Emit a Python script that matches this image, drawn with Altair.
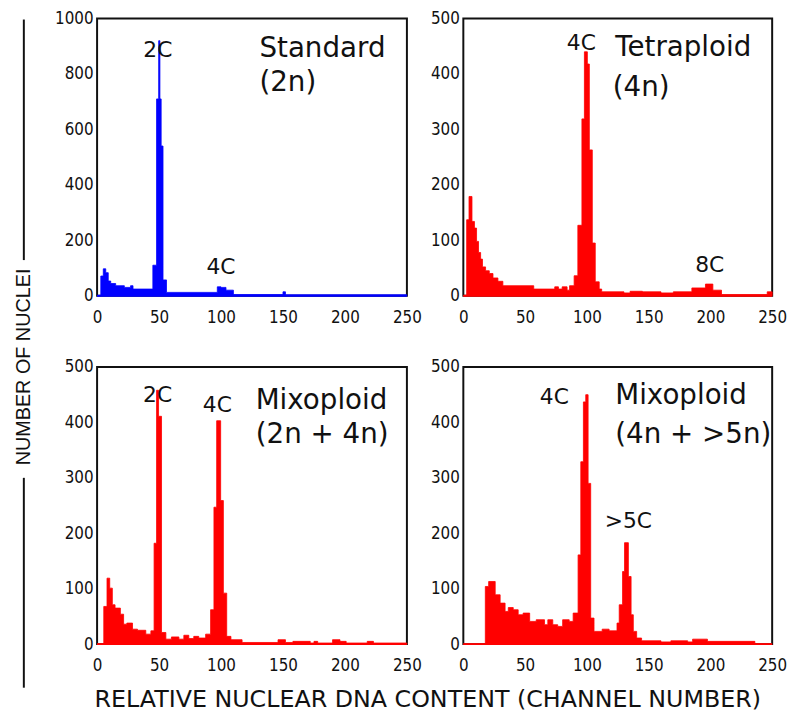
import altair as alt
import pandas as pd

# ---------------- data ----------------
panel_titles = ["Standard", "Tetraploid", "Mixoploid", "Mixoploid"]
panel_subtitles = ["(2n)", "(4n)", "(2n + 4n)", "(4n + >5n)"]
panel_colors = ["#0000ff", "#ff0000", "#ff0000", "#ff0000"]
y_max = [1000, 500, 500, 500]
y_step = [200, 100, 100, 100]
x_ticks = [0, 50, 100, 150, 200, 250]

# title anchor (channel, count) for each panel
title_x = [131, 123, 128, 123]
title_y = [861, 433, 424, 434]
subtitle_x = [131, 121, 128, 123]
subtitle_y = [737, 361, 362, 362]

# histogram: bin edges (channel number) and counts
std_edges = [0, 3, 5, 7, 9, 11, 15, 22, 27, 29, 45, 48, 49.7, 50.7, 51.7, 53.2, 56,
             97, 100, 104, 110, 150, 152, 250]
std_counts = [0, 71, 97, 83, 53, 44, 36, 30, 36, 24, 110, 710, 920, 710, 540, 57,
              12, 32, 30, 20, 4, 14, 3]

tet_edges = [0, 2.7, 4.6, 7, 9, 10.7, 12.3, 14, 15.5, 18, 21, 24, 28, 32, 57, 74, 77, 80,
             84, 86, 89.7, 92.7, 96, 98, 100.4, 102, 104.4, 106.8, 110, 112, 130, 135,
             145, 160, 170, 185, 196, 202, 209, 246, 250]
tet_counts = [0, 137, 179, 134, 122, 98, 78, 66, 52, 45, 40, 32, 26, 18, 12, 16, 12,
              16, 10, 18, 36, 127, 319, 440, 418, 263, 95, 25, 12, 7, 5, 8, 7, 5, 7,
              14, 21, 10, 2, 7]

mix1_edges = [0, 5.4, 8, 10.2, 12.3, 14.5, 18.8, 21.4, 24, 28.6, 32.6, 39.3, 43.4, 46,
              48, 49.6, 52, 55.5, 60, 66, 70, 74, 78, 82, 87.6, 91.6, 94.3, 96.5, 99.7,
              101.9, 104.6, 108, 117, 146, 152, 158, 172, 175, 178, 190, 196, 201, 218,
              223, 250]
mix1_counts = [0, 68, 119, 101, 71, 65, 54, 36, 38, 27, 25, 18, 24, 182, 458, 411, 21,
               9, 13, 9, 16, 10, 14, 11, 18, 62, 247, 403, 259, 92, 14, 8, 3, 8, 3, 5,
               2, 5, 2, 8, 5, 2, 5, 2]

mix2_edges = [0, 17.8, 20.5, 25.8, 29.8, 33.8, 36.4, 40.4, 44.4, 48.4, 53.7, 59, 65.7,
              68.4, 72.4, 76.4, 80.4, 85.7, 88.9, 92.9, 95.1, 97.2, 99.1, 101, 103.1,
              105.8, 112.4, 118, 124.4, 126.2, 128.9, 130.5, 133.6, 135.8, 137.6, 140.3,
              144.3, 160, 168, 181.6, 185.6, 197.6, 236, 250]
mix2_counts = [0, 104, 113, 89, 74, 59, 66, 62, 53, 56, 41, 44, 35, 44, 35, 32, 44, 41,
               56, 161, 329, 437, 450, 290, 47, 23, 27, 24, 38, 71, 131, 183, 122, 53,
               23, 11, 6, 4, 6, 4, 9, 5, 0]

# peak labels
std_peaks = ["2C", "4C"]
std_peak_x = [49, 100]
std_peak_y = [860, 78]
tet_peaks = ["4C", "8C"]
tet_peak_x = [95.5, 199.5]
tet_peak_y = [444, 42]
mix1_peaks = ["2C", "4C"]
mix1_peak_x = [48.8, 97]
mix1_peak_y = [436, 418]
mix2_peaks = ["4C", ">5C"]
mix2_peak_x = [73.7, 133.6]
mix2_peak_y = [434, 209]

y_axis_title = "NUMBER OF NUCLEI"
x_axis_title = "RELATIVE NUCLEAR DNA CONTENT (CHANNEL NUMBER)"

# ---------------- styling ----------------
TICK_FONT = "Liberation Sans Narrow, DejaVu Sans Condensed, Liberation Sans, sans-serif"
TEXT_FONT = "DejaVu Sans, Liberation Sans, sans-serif"
INK = "#111"


def panel(i, edges, counts, peaks, peak_x, peak_y, width, extra=None):
    # step histogram: each edge carries the count of the bin that starts there
    df = pd.DataFrame({"start": edges, "count": counts + [counts[-1]]})
    xs = alt.Scale(domain=[0, 250], nice=False, zero=False)
    ys = alt.Scale(domain=[0, y_max[i]], nice=False)
    x_axis = alt.Axis(values=x_ticks, title=None, labelPadding=14, labelFlush=False)
    y_axis = alt.Axis(values=list(range(0, y_max[i] + 1, y_step[i])), title=None,
                      labelPadding=4, labelFlush=False, format="d")
    X = alt.X("start:Q", scale=xs, axis=x_axis)
    Y = alt.Y("count:Q", scale=ys, axis=y_axis)
    col = panel_colors[i]
    hist = alt.Chart(df).mark_area(
        color=col, interpolate="step-after", stroke=col, strokeWidth=0.8
    ).encode(x=X, y=Y)
    base = alt.Chart(pd.DataFrame({"start": [0], "end": [250], "count": [0]})).mark_rule(
        color=col, strokeWidth=2).encode(x=X, x2="end:Q", y=Y)
    pk = pd.DataFrame({"start": peak_x, "count": peak_y, "t": peaks})
    peak_text = alt.Chart(pk).mark_text(
        align="center", baseline="alphabetic", fontSize=22, font=TEXT_FONT,
        color=INK).encode(x=X, y=Y, text="t:N")
    tt = pd.DataFrame({"start": [title_x[i], subtitle_x[i]],
                       "count": [title_y[i], subtitle_y[i]],
                       "t": [panel_titles[i], panel_subtitles[i]]})
    title_text = alt.Chart(tt).mark_text(
        align="left", baseline="alphabetic", fontSize=28, font=TEXT_FONT,
        color=INK).encode(x=X, y=Y, text="t:N")
    layers = [hist, base, peak_text, title_text]
    if extra:
        layers += extra
    return alt.layer(*layers).properties(width=width, height=280)


# global axis titles, drawn relative to the bottom-left panel
one_y = pd.DataFrame({"t": [y_axis_title]})
one_x = pd.DataFrame({"t": [x_axis_title]})
global_marks = [
    alt.Chart(one_y).mark_text(angle=270, fontSize=20, font="Liberation Sans, Arial",
                               color=INK, baseline="middle", align="center").encode(
        text="t:N", x=alt.value(-74), y=alt.value(0)),
    alt.Chart(one_y).mark_rule(strokeWidth=2, color=INK).encode(
        x=alt.value(-74), y=alt.value(-351), y2=alt.value(-108)),
    alt.Chart(one_y).mark_rule(strokeWidth=2, color=INK).encode(
        x=alt.value(-74), y=alt.value(112), y2=alt.value(324)),
    alt.Chart(one_x).mark_text(fontSize=24, font=TEXT_FONT, color=INK,
                               baseline="middle", align="center").encode(
        text="t:N", x=alt.value(334), y=alt.value(337)),
]

p1 = panel(0, std_edges, std_counts, std_peaks, std_peak_x, std_peak_y, 313)
p2 = panel(1, tet_edges, tet_counts, tet_peaks, tet_peak_x, tet_peak_y, 312)
p3 = panel(2, mix1_edges, mix1_counts, mix1_peaks, mix1_peak_x, mix1_peak_y, 313,
           extra=global_marks)
p4 = panel(3, mix2_edges, mix2_counts, mix2_peaks, mix2_peak_x, mix2_peak_y, 312)

chart = alt.concat(
    p1, p2, p3, p4, columns=2, spacing={"row": 72, "column": 57}, bounds="flush"
).properties(
    padding={"left": 4, "top": -3, "right": 0, "bottom": 4}
).configure_view(
    stroke=INK, strokeWidth=2
).configure_axis(
    domain=False, ticks=False, grid=False, labelFont=TICK_FONT, labelFontSize=17,
    labelColor=INK
)

chart.save("out.html", embed_options={"renderer": "svg", "actions": False})
